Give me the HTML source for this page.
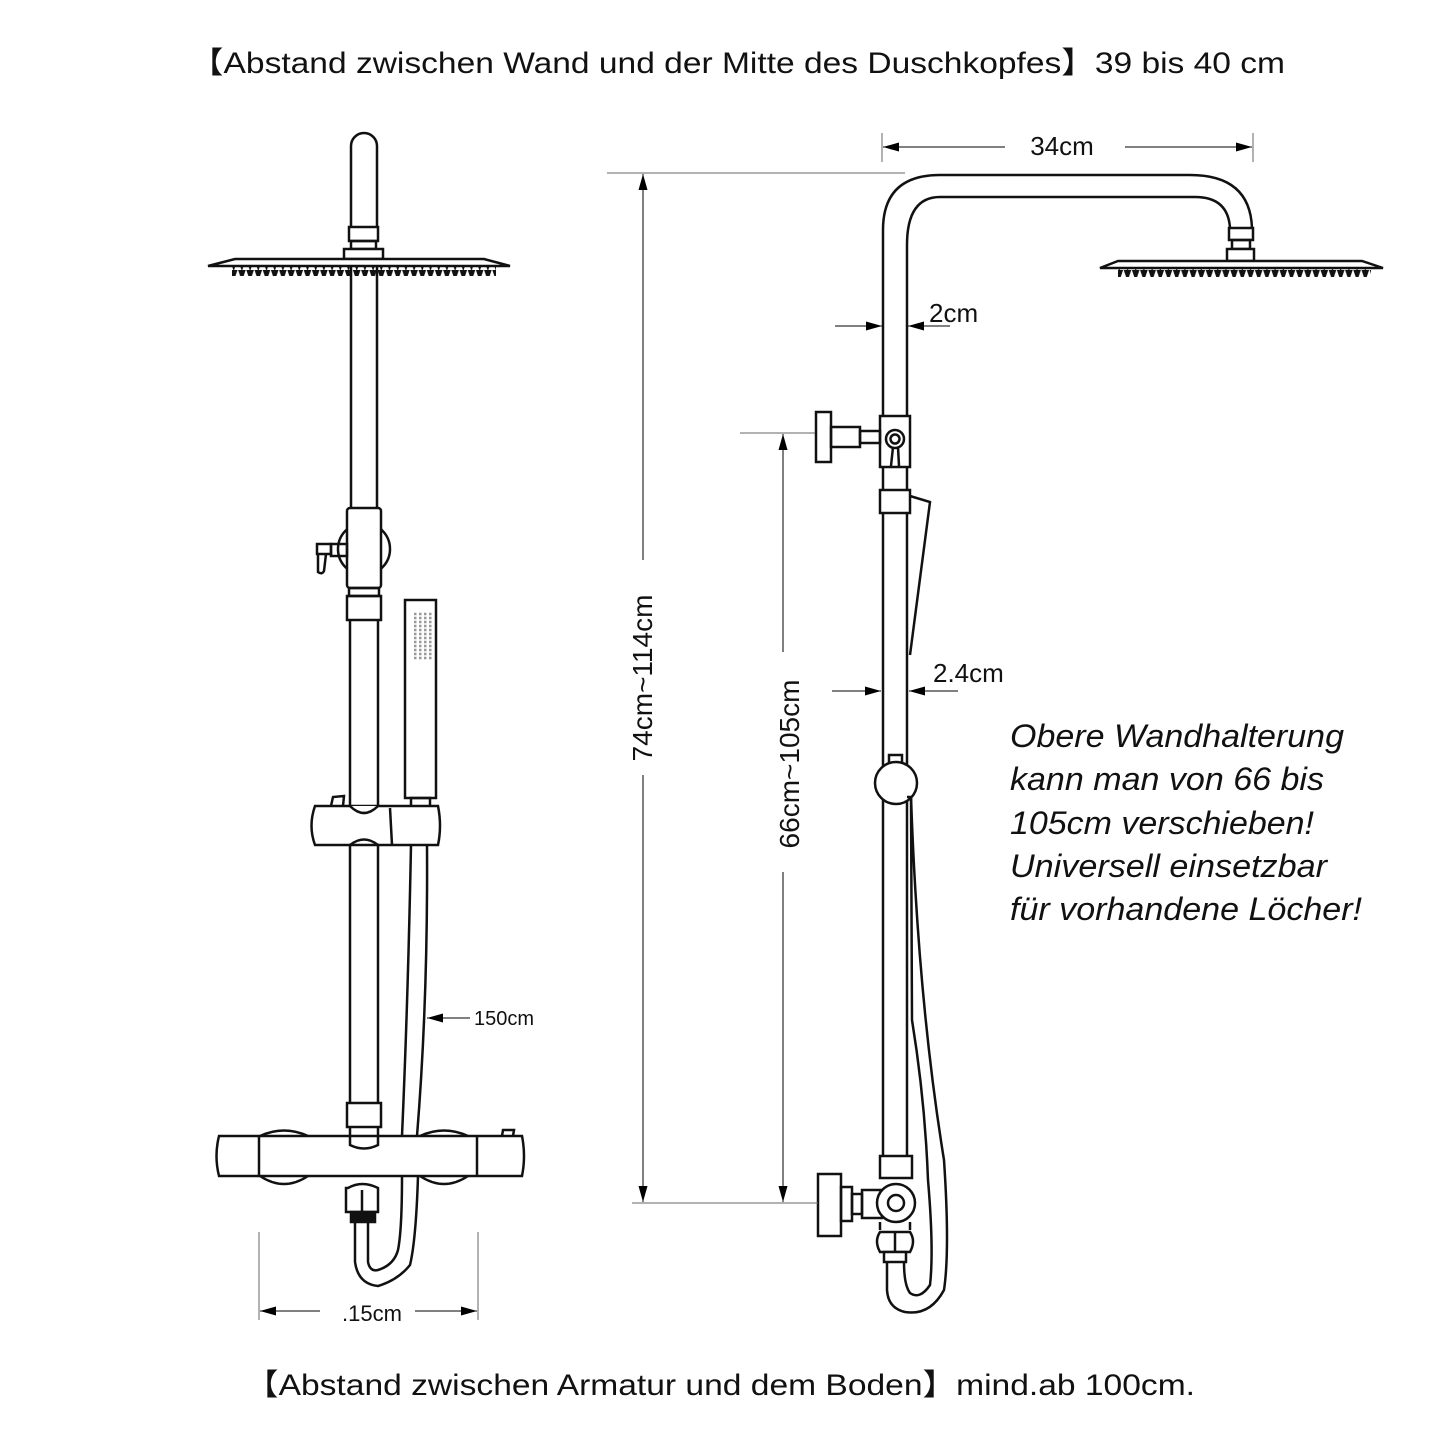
<!DOCTYPE html>
<html><head><meta charset="utf-8"><style>
html,body{margin:0;padding:0;background:#fff;}
svg{display:block;}
text{font-family:"Liberation Sans","Noto Sans CJK SC",sans-serif;fill:#111;}
</style></head><body>
<svg width="1445" height="1445" viewBox="0 0 1445 1445" xmlns="http://www.w3.org/2000/svg">
<defs>
<marker id="ar" viewBox="0 0 16 10" refX="16" refY="5" markerWidth="16" markerHeight="10" markerUnits="userSpaceOnUse" orient="auto"><path d="M0,0.5 L16,5 L0,9.5 Z" fill="#000"/></marker>
<pattern id="teeth" x="0" y="0" width="8.2" height="10" patternUnits="userSpaceOnUse"><path d="M0.3,0 L7.9,0 L4.5,10 L3.7,10 Z" fill="#111"/></pattern>
</defs>
<text x="190" y="73" font-size="30" textLength="1095" lengthAdjust="spacingAndGlyphs">【Abstand zwischen Wand und der Mitte des Duschkopfes】39 bis 40 cm</text>
<text x="245" y="1395" font-size="30" textLength="950" lengthAdjust="spacingAndGlyphs">【Abstand zwischen Armatur und dem Boden】mind.ab 100cm.</text>

<g fill="none" stroke="#111" stroke-width="2.5">
<!-- LEFT SHOWER -->
<path d="M351,227 V146 A13,13 0 0 1 377,146 V227"/>
<rect x="349" y="227" width="29" height="14" fill="#fff"/>
<rect x="351" y="241" width="25" height="8"/>
<rect x="344" y="249" width="39" height="10" fill="#fff"/>
<path d="M235,259 H484 L510,266 H208 Z" fill="#fff"/>
<line x1="351" y1="266" x2="351" y2="508"/><line x1="377" y1="266" x2="377" y2="508"/>
<circle cx="364" cy="549" r="26" fill="#fff"/>
<rect x="347" y="508" width="34" height="80" rx="3" fill="#fff"/>
<rect x="331" y="544" width="16" height="12"/>
<rect x="317" y="544" width="14" height="10"/>
<path d="M318,554 L318,572 Q322,575 324,571 L326,554"/>
<rect x="349" y="588" width="30" height="8"/>
<rect x="347" y="596" width="34" height="24"/>
<line x1="350" y1="620" x2="350" y2="810"/><line x1="378" y1="620" x2="378" y2="810"/>
<rect x="405" y="600" width="31" height="198"/>
<rect x="411" y="798" width="19" height="9"/>
<path d="M331,806 L333,797 L344,796 L343,806"/>
<path d="M315,806 H438 Q442,826 438,845 H315 Q308,826 315,806 Z" fill="#fff"/>
<path d="M350,806 Q364,820 378,806" fill="#fff"/>
<path d="M350,845 Q364,834 378,845"/>
<line x1="390" y1="808" x2="392" y2="845"/>
<line x1="350" y1="845" x2="350" y2="1103"/><line x1="378" y1="845" x2="378" y2="1103"/>
<rect x="347" y="1103" width="34" height="24"/>
<path d="M350,1127 V1145 Q364,1152 378,1145 V1127"/>
<path d="M411,845 Q408,1000 402,1136"/>
<path d="M427,845 Q428,1000 417,1136"/>
<path d="M260,1136 Q284,1125 308,1136 M420,1136 Q444,1125 468,1136" />
<path d="M260,1176 Q284,1192 308,1176 M420,1176 Q444,1192 468,1176"/>
<path d="M219,1136 H522 Q526,1156 522,1176 H219 Q214,1156 219,1136 Z"/>
<line x1="259" y1="1136" x2="259" y2="1176"/><line x1="477" y1="1136" x2="477" y2="1176"/>
<path d="M502,1136 L503,1130 L514,1130 L513,1136"/>
<path d="M348,1188 Q362,1180 378,1188 V1212 H346 V1188 Z"/>
<line x1="362" y1="1190" x2="362" y2="1212"/>
<rect x="351" y="1212" width="24" height="10" fill="#111"/>
<path d="M355,1222 V1262 Q358,1284 378,1286 Q398,1280 410,1265 Q416,1240 418,1176"/>
<path d="M368,1222 V1262 Q370,1272 378,1270 Q394,1265 398,1250 Q402,1230 402,1176"/>

<!-- RIGHT SHOWER -->
<path d="M883,1156 V230 Q883,175 940,175 H1190 Q1250,175 1252,228"/>
<path d="M907,416 V245 Q907,197 940,197 H1195 Q1228,197 1230,228"/>
<rect x="1229" y="228" width="24" height="12"/>
<rect x="1232" y="240" width="18" height="9"/>
<rect x="1227" y="249" width="27" height="12" fill="#fff"/>
<path d="M1118,261 H1362 L1383,268 H1100 Z" fill="#fff"/>
<rect x="880" y="416" width="30" height="51" fill="#fff"/>
<circle cx="895" cy="439" r="9"/><circle cx="895" cy="439" r="4.5"/>
<path d="M893,447 L891,466 M898,447 L899,466"/>
<rect x="860" y="431" width="20" height="12"/>
<rect x="831" y="427" width="29" height="20"/>
<rect x="816" y="412" width="15" height="50"/>
<line x1="907" y1="467" x2="907" y2="1156"/>
<rect x="880" y="490" width="30" height="23" fill="#fff"/>
<path d="M910,496 L930,502 L910,655"/>
<rect x="889" y="755" width="13" height="9"/>
<circle cx="896" cy="783" r="21" fill="#fff"/>
<path d="M911,797 Q918,1000 944,1160 Q950,1250 944,1290 Q930,1316 905,1312 Q888,1308 887,1290 V1262"/>
<path d="M907,797 H911 L912,1020 Q925,1100 928,1180 Q934,1250 930,1285 Q920,1300 910,1293 Q904,1285 904,1262"/>
<rect x="880" y="1156" width="32" height="22" fill="#fff"/>
<rect x="862" y="1190" width="20" height="28" fill="#fff"/>
<rect x="852" y="1194" width="10" height="20"/>
<rect x="841" y="1187" width="11" height="34"/>
<rect x="818" y="1174" width="23" height="62"/>
<circle cx="896" cy="1203" r="19" fill="#fff"/><circle cx="896" cy="1203" r="8"/>
<path d="M880,1222 V1230 M910,1222 V1230"/>
<path d="M880,1232 H910 Q916,1241 910,1252 H880 Q874,1241 880,1232 Z" fill="#fff"/>
<line x1="895" y1="1232" x2="895" y2="1252"/>
<rect x="884" y="1252" width="22" height="10" fill="#fff"/>
</g>
<rect x="232" y="266" width="264" height="10" fill="url(#teeth)"/>
<rect x="1118" y="268" width="253" height="9" fill="url(#teeth)"/>
<g fill="none" stroke="#999">
<path d="M414,614 h18 M414,618 h18 M414,622 h18 M414,626 h18 M414,630 h18 M414,634 h18 M414,638 h18 M414,642 h18 M414,646 h18 M414,650 h18 M414,654 h18 M414,658 h18" stroke-dasharray="2.5 2.5" stroke-width="2.5"/>
</g>

<!-- dimensions -->
<g stroke="#666" stroke-width="1" fill="none">
<line x1="259" y1="1232" x2="259" y2="1320"/><line x1="478" y1="1232" x2="478" y2="1320"/>
<line x1="320" y1="1311" x2="260" y2="1311" marker-end="url(#ar)" stroke="#000"/>
<line x1="415" y1="1311" x2="477" y2="1311" marker-end="url(#ar)" stroke="#000"/>
<line x1="470" y1="1018" x2="427" y2="1018" marker-end="url(#ar)" stroke="#000"/>
<line x1="882" y1="133" x2="882" y2="162"/><line x1="1253" y1="133" x2="1253" y2="162"/>
<line x1="1005" y1="147" x2="883" y2="147" marker-end="url(#ar)" stroke="#000"/>
<line x1="1125" y1="147" x2="1252" y2="147" marker-end="url(#ar)" stroke="#000"/>
<line x1="607" y1="173" x2="905" y2="173"/>
<line x1="835" y1="326" x2="882" y2="326" marker-end="url(#ar)" stroke="#000"/>
<line x1="950" y1="326" x2="908" y2="326" marker-end="url(#ar)" stroke="#000"/>
<line x1="832" y1="691" x2="881" y2="691" marker-end="url(#ar)" stroke="#000"/>
<line x1="958" y1="691" x2="909" y2="691" marker-end="url(#ar)" stroke="#000"/>
<line x1="740" y1="433" x2="815" y2="433"/>
<line x1="632" y1="1203" x2="818" y2="1203"/>
<line x1="643" y1="560" x2="643" y2="174" marker-end="url(#ar)" stroke="#000"/>
<line x1="643" y1="775" x2="643" y2="1202" marker-end="url(#ar)" stroke="#000"/>
<line x1="783" y1="652" x2="783" y2="434" marker-end="url(#ar)" stroke="#000"/>
<line x1="783" y1="872" x2="783" y2="1202" marker-end="url(#ar)" stroke="#000"/>
</g>
<text x="372" y="1321" font-size="22" text-anchor="middle">.15cm</text>
<text x="474" y="1025" font-size="20">150cm</text>
<text x="1062" y="155" font-size="26" text-anchor="middle">34cm</text>
<text x="929" y="322" font-size="26">2cm</text>
<text x="933" y="682" font-size="26">2.4cm</text>
<text transform="translate(652,678) rotate(-90)" font-size="28" text-anchor="middle">74cm~114cm</text>
<text transform="translate(799,764) rotate(-90)" font-size="28" text-anchor="middle">66cm~105cm</text>
<g font-size="32" font-style="italic">
<text x="1010" y="747" textLength="334" lengthAdjust="spacingAndGlyphs">Obere Wandhalterung</text>
<text x="1010" y="790" textLength="314" lengthAdjust="spacingAndGlyphs">kann man von 66 bis</text>
<text x="1010" y="834" textLength="304" lengthAdjust="spacingAndGlyphs">105cm verschieben!</text>
<text x="1010" y="877" textLength="317" lengthAdjust="spacingAndGlyphs">Universell einsetzbar</text>
<text x="1010" y="920" textLength="352" lengthAdjust="spacingAndGlyphs">für vorhandene Löcher!</text>
</g>
</svg>
</body></html>
